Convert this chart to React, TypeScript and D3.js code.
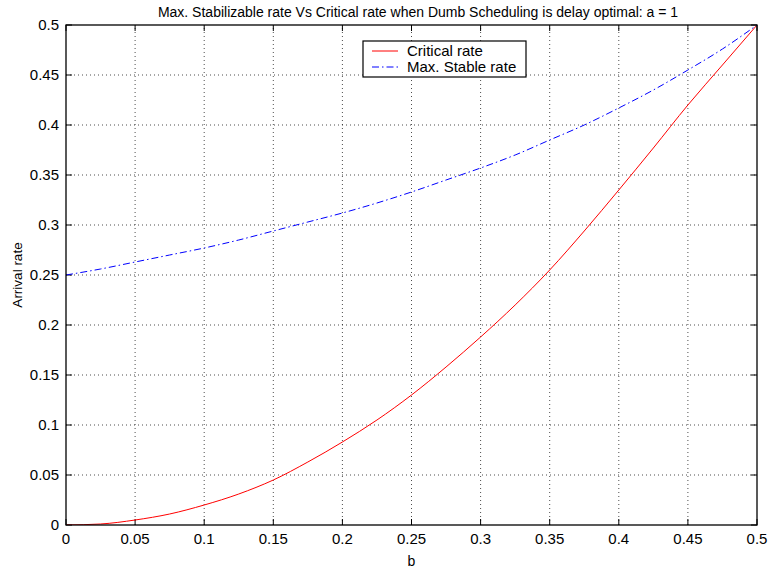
import { useEffect, useRef } from "react";
import * as d3 from "d3";

const bValues = [0, 0.025, 0.05, 0.075, 0.1, 0.125, 0.15, 0.175, 0.2, 0.225, 0.25, 0.275, 0.3, 0.325, 0.35, 0.375, 0.4, 0.425, 0.45, 0.475, 0.5];
const criticalRate = [0, 0.001, 0.005, 0.011, 0.02, 0.031, 0.045, 0.063, 0.083, 0.105, 0.13, 0.158, 0.188, 0.22, 0.255, 0.294, 0.335, 0.377, 0.42, 0.46, 0.5];
const maxStableRate = [0.25, 0.256, 0.263, 0.27, 0.277, 0.285, 0.294, 0.303, 0.312, 0.322, 0.333, 0.345, 0.357, 0.37, 0.385, 0.4, 0.417, 0.435, 0.455, 0.476, 0.5];
const xTicks = [0, 0.05, 0.1, 0.15, 0.2, 0.25, 0.3, 0.35, 0.4, 0.45, 0.5];
const yTicks = [0, 0.05, 0.1, 0.15, 0.2, 0.25, 0.3, 0.35, 0.4, 0.45, 0.5];

export default function App() {
  const svgRef = useRef<SVGSVGElement>(null);

  useEffect(() => {
    if (!svgRef.current) return;
    const width = 769;
    const height = 571;
    const margin = { top: 25, right: 12, bottom: 46, left: 66 };
    const font = "'Liberation Sans', Arial, sans-serif";

    const svg = d3.select(svgRef.current);
    svg.selectAll("*").remove();
    svg.attr("viewBox", `0 0 ${width} ${height}`);

    svg.append("rect").attr("width", width).attr("height", height).attr("fill", "#fff");

    const x = d3.scaleLinear().domain([0, 0.5]).range([margin.left, width - margin.right]);
    const y = d3.scaleLinear().domain([0, 0.5]).range([height - margin.bottom, margin.top]);
    const [x0, x1] = x.range();
    const [y0, y1] = y.range();

    // dotted grid
    const grid = svg.append("g").attr("stroke", "#000").attr("stroke-width", 0.7).attr("stroke-dasharray", "1,3");
    grid.selectAll("line.v").data(xTicks.slice(1, -1)).join("line")
      .attr("x1", d => x(d)).attr("x2", d => x(d)).attr("y1", y0).attr("y2", y1);
    grid.selectAll("line.h").data(yTicks.slice(1, -1)).join("line")
      .attr("class", "h")
      .attr("x1", x0).attr("x2", x1).attr("y1", d => y(d)).attr("y2", d => y(d));

    // ticks inward on all sides
    const ticks = svg.append("g").attr("stroke", "#000").attr("stroke-width", 1);
    xTicks.forEach(t => {
      ticks.append("line").attr("x1", x(t)).attr("x2", x(t)).attr("y1", y0).attr("y2", y0 - 6);
      ticks.append("line").attr("x1", x(t)).attr("x2", x(t)).attr("y1", y1).attr("y2", y1 + 6);
    });
    yTicks.forEach(t => {
      ticks.append("line").attr("x1", x0).attr("x2", x0 + 6).attr("y1", y(t)).attr("y2", y(t));
      ticks.append("line").attr("x1", x1).attr("x2", x1 - 6).attr("y1", y(t)).attr("y2", y(t));
    });

    // tick labels
    svg.append("g").selectAll("text").data(xTicks).join("text")
      .attr("x", d => x(d)).attr("y", y0 + 19)
      .attr("text-anchor", "middle")
      .attr("font-family", font).attr("font-size", "15px")
      .text(d => String(d));
    svg.append("g").selectAll("text").data(yTicks).join("text")
      .attr("x", x0 - 7).attr("y", d => y(d)).attr("dy", "0.35em")
      .attr("text-anchor", "end")
      .attr("font-family", font).attr("font-size", "15px")
      .text(d => String(d));

    // curves
    const pts = (vals: number[]) => bValues.map((b, i) => [b, vals[i]] as [number, number]);
    const line = d3.line<[number, number]>().x(d => x(d[0])).y(d => y(d[1])).curve(d3.curveMonotoneX);

    const clip = svg.append("clipPath").attr("id", "plotclip");
    clip.append("rect").attr("x", x0).attr("y", y1).attr("width", x1 - x0).attr("height", y0 - y1);
    const plot = svg.append("g").attr("clip-path", "url(#plotclip)");

    plot.append("path").attr("d", line(pts(criticalRate))!)
      .attr("fill", "none").attr("stroke", "#ff0000").attr("stroke-width", 1);
    plot.append("path").attr("d", line(pts(maxStableRate))!)
      .attr("fill", "none").attr("stroke", "#0000ff").attr("stroke-width", 1)
      .attr("stroke-dasharray", "7,3,1.5,3");

    // axes box
    svg.append("rect").attr("x", x0).attr("y", y1).attr("width", x1 - x0).attr("height", y0 - y1)
      .attr("fill", "none").attr("stroke", "#000").attr("stroke-width", 1.3);

    // titles
    svg.append("text").attr("x", 418).attr("y", 17)
      .attr("text-anchor", "middle").attr("font-family", font).attr("font-size", "14px")
      .text("Max. Stabilizable rate Vs Critical rate when Dumb Scheduling is delay optimal: a = 1");
    svg.append("text").attr("x", (x0 + x1) / 2).attr("y", 566)
      .attr("text-anchor", "middle").attr("font-family", font).attr("font-size", "14px")
      .text("b");
    svg.append("text")
      .attr("transform", `translate(22,${(y0 + y1) / 2}) rotate(-90)`)
      .attr("text-anchor", "middle").attr("font-family", font).attr("font-size", "13.5px")
      .text("Arrival rate");

    // legend
    const lg = svg.append("g").attr("transform", "translate(363,41)");
    lg.append("rect").attr("width", 163).attr("height", 36)
      .attr("fill", "#fff").attr("stroke", "#000").attr("stroke-width", 1.2);
    const entries = [
      { label: "Critical rate", color: "#ff0000", dash: "none" },
      { label: "Max. Stable rate", color: "#0000ff", dash: "7,3,1.5,3" },
    ];
    entries.forEach((e, i) => {
      const cy = 10 + i * 16;
      lg.append("line").attr("x1", 9).attr("x2", 35).attr("y1", cy).attr("y2", cy)
        .attr("stroke", e.color).attr("stroke-width", 1).attr("stroke-dasharray", e.dash);
      lg.append("text").attr("x", 44).attr("y", cy).attr("dy", "0.35em")
        .attr("font-family", font).attr("font-size", "15px").text(e.label);
    });
  }, []);

  return (
    <div style={{ position: "absolute", left: 0, top: 0 }}>
      <svg ref={svgRef} width={769} height={571} style={{ display: "block" }} />
    </div>
  );
}
